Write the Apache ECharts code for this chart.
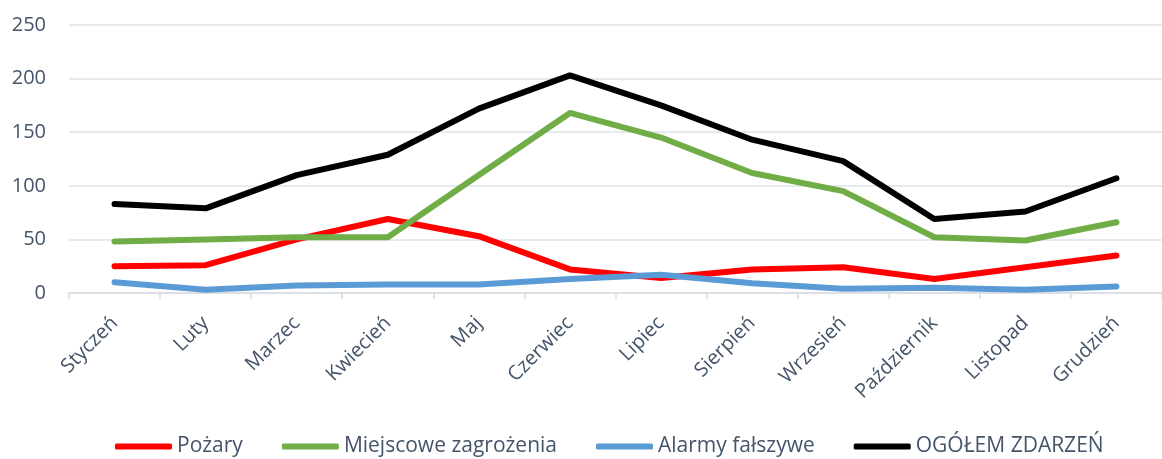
<!DOCTYPE html>
<html lang="pl">
<head>
<meta charset="utf-8">
<script src="https://cdn.jsdelivr.net/npm/echarts@6/dist/echarts.min.js"></script>
<style>
  html, body { margin: 0; padding: 0; background: #fff; }
  #chart { width: 1162px; height: 459px; }
</style>
</head>
<body>
<div id="chart"></div>
<script>
// ---- Data ----
const months = ["Styczeń", "Luty", "Marzec", "Kwiecień", "Maj", "Czerwiec",
                "Lipiec", "Sierpień", "Wrzesień", "Październik", "Listopad", "Grudzień"];
const pozary = [25, 26, 50, 69, 53, 22, 14, 22, 24, 13, 24, 35];
const miejscowe = [48, 50, 52, 52, 110, 168, 145, 112, 95, 52, 49, 66];
const alarmy = [10, 3, 7, 8, 8, 13, 17, 9, 4, 5, 3, 6];
const ogolem = [83, 79, 110, 129, 172, 203, 175, 143, 123, 69, 76, 107];
const yTicks = [0, 50, 100, 150, 200, 250];

(function () {
    "use strict";

    const TEXT = "#44546A";
    const FONT = "'Open Sans', 'Noto Sans', sans-serif";

    function line(name, data, color) {
        return {
            name, type: "line", data,
            symbol: "none",
            lineStyle: { color, width: 6, cap: "round", join: "round" },
            itemStyle: { color },
            animation: false
        };
    }

    const chart = echarts.init(document.getElementById("chart"));
    chart.setOption({
        animation: false,
        grid: { left: 69, top: 25, width: 1104, height: 268, containLabel: false },
        legend: {
            top: 431,
            left: 110,
            itemWidth: 57,
            itemHeight: 6,
            itemGap: 39,
            icon: "roundRect",
            textStyle: { color: TEXT, fontSize: 21, fontFamily: FONT },
            data: ["Pożary", "Miejscowe zagrożenia", "Alarmy fałszywe", "OGÓŁEM ZDARZEŃ"]
        },
        xAxis: {
            type: "category",
            data: months,
            boundaryGap: true,
            axisLine: { lineStyle: { color: "#D9DDE3", width: 1.5 } },
            axisTick: { show: true, length: 6, lineStyle: { color: "#D9DDE3", width: 1.5 } },
            axisLabel: { rotate: 45, color: TEXT, fontSize: 20, fontFamily: FONT, margin: 27, interval: 0 }
        },
        yAxis: {
            type: "value",
            min: yTicks[0],
            max: yTicks[yTicks.length - 1],
            interval: 50,
            axisLine: { show: false },
            axisTick: { show: false },
            splitLine: { lineStyle: { color: "#DEE2E8", width: 1.5 } },
            axisLabel: { color: TEXT, fontSize: 20, fontFamily: FONT, margin: 23 }
        },
        series: [
            line("Pożary", pozary, "#FF0000"),
            line("Miejscowe zagrożenia", miejscowe, "#70AD47"),
            line("Alarmy fałszywe", alarmy, "#5B9BD5"),
            line("OGÓŁEM ZDARZEŃ", ogolem, "#000000")
        ]
    });
})();
</script>
</body>
</html>
